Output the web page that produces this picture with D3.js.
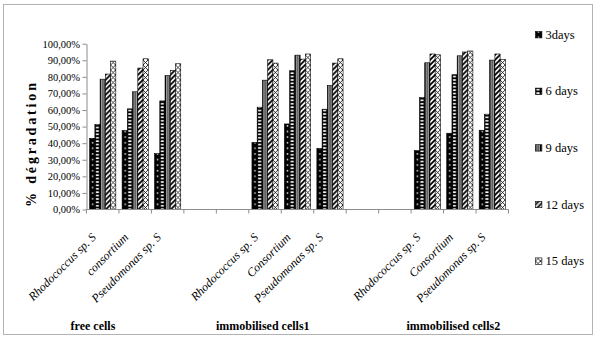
<!DOCTYPE html>
<html>
<head>
<meta charset="utf-8">
<script src="https://cdn.jsdelivr.net/npm/d3@7"></script>
<style>
  body { margin: 0; background: #fff; }
  svg text { font-family: "Liberation Serif", "Times New Roman", "DejaVu Serif", serif; }
</style>
</head>
<body>
<svg id="chart" width="598" height="341"></svg>
<script>
// data
const groups = ["free cells", "immobilised cells1", "immobilised cells2"];
const strains = [
   ["Rhodococcus sp. S", "consortium", "Pseudomonas sp. S"],
   ["Rhodococcus sp. S", "Consortium", "Pseudomonas sp. S"],
   ["Rhodococcus sp. S", "Consortium", "Pseudomonas sp. S"]
];
const seriesNames = ["3days", "6 days", "9 days", "12 days", "15 days"];
const day3  = [42.9, 47.6, 33.7, 40.5, 51.6, 36.9, 35.5, 46.0, 47.8];
const day6  = [51.4, 60.7, 65.5, 61.7, 83.7, 60.5, 67.5, 81.3, 57.5];
const day9  = [78.6, 71.0, 80.8, 78.0, 93.1, 74.8, 88.5, 92.7, 90.1];
const day12 = [81.7, 85.3, 83.9, 90.3, 90.7, 88.3, 93.8, 95.0, 93.8];
const day15 = [89.5, 90.9, 87.9, 88.3, 93.8, 90.9, 93.3, 95.6, 90.5];
const yTicks = [0, 10, 20, 30, 40, 50, 60, 70, 80, 90, 100];

const series = [day3, day6, day9, day12, day15];

// each group takes 3 slots, then 2 empty slots
const slotsPerGroup = 5;
const nSlots = groups.length * slotsPerGroup - 2;

let svg = d3.select("#chart");

// outer frame
svg.append("rect")
   .attr("x", 3.5).attr("y", 4.5)
   .attr("width", 589).attr("height", 330)
   .attr("fill", "none")
   .attr("stroke", "#b3b3b3");

let plot = {left: 86.5, right: 508.5, top: 43.7, bottom: 209.5};

let x0 = d3.scaleBand()
   .domain(d3.range(nSlots))
   .range([plot.left, plot.right]);
let x1 = d3.scaleBand()
   .domain(d3.range(series.length))
   .range([0, x0.bandwidth()])
   .paddingOuter(0.6);
let y = d3.scaleLinear()
   .domain([0, 100])
   .range([plot.bottom, plot.top]);

// patterns
let defs = svg.append("defs");
function pattern(id, w, h) {
   return defs.append("pattern")
      .attr("id", id)
      .attr("patternUnits", "userSpaceOnUse")
      .attr("width", w).attr("height", h);
}
let bw = x1.bandwidth();
// 3 days: black with small white dots
let p0 = pattern("pat0", bw, 5.6);
p0.append("rect").attr("width", bw).attr("height", 5.6).attr("fill", "#000");
p0.append("rect").attr("x", bw * 0.45).attr("y", 2).attr("width", 1.4).attr("height", 1.4).attr("fill", "#fff");
// 6 days: black ladder with white blocks
let p1 = pattern("pat1", bw, 3.4);
p1.append("rect").attr("width", bw).attr("height", 3.4).attr("fill", "#000");
p1.append("rect").attr("x", 1).attr("y", 1).attr("width", bw - 2.2).attr("height", 1.6).attr("fill", "#fff");
// 9 days: vertical stripes
let p2 = pattern("pat2", bw, 4);
p2.append("rect").attr("width", bw).attr("height", 4).attr("fill", "#fff");
p2.append("rect").attr("x", 0).attr("width", 1.2).attr("height", 4).attr("fill", "#000");
p2.append("rect").attr("x", 2.0).attr("width", 1.3).attr("height", 4).attr("fill", "#333");
p2.append("rect").attr("x", bw - 1.2).attr("width", 1.2).attr("height", 4).attr("fill", "#000");
// 12 days: thick diagonal stripes
let p3 = pattern("pat3", 5, 5);
p3.append("rect").attr("width", 5).attr("height", 5).attr("fill", "#fff");
p3.append("path").attr("d", "M-1,6 L6,-1 M-1,1 L1,-1 M4,6 L6,4")
   .attr("stroke", "#000").attr("stroke-width", 1.8);
// 15 days: diagonal cross hatch
let p4 = pattern("pat4", 5, 5);
p4.append("rect").attr("width", 5).attr("height", 5).attr("fill", "#fff");
p4.append("path").attr("d", "M0,0 L5,5 M5,0 L0,5")
   .attr("stroke", "#000").attr("stroke-width", 0.8);

// bars
let cats = [];
groups.forEach(function(g, gi) {
   strains[gi].forEach(function(s, si) {
      cats.push({group: gi, name: s, slot: gi * slotsPerGroup + si});
   });
});

let bars = [];
cats.forEach(function(c, ci) {
   series.forEach(function(vals, k) {
      bars.push({slot: c.slot, k: k, v: vals[ci]});
   });
});

svg.append("g").selectAll("g")
   .data(bars)
   .join("g")
      .attr("transform", d => "translate(" + (x0(d.slot) + x1(d.k)) + ",0)")
   .append("rect")
      .attr("x", 0)
      .attr("y", d => y(d.v))
      .attr("width", bw)
      .attr("height", d => y(0) - y(d.v))
      .attr("fill", d => "url(#pat" + d.k + ")")
      .attr("stroke", "#000")
      .attr("stroke-width", 0.6);

// left axis
let leftAxis = d3.axisLeft(y)
   .tickValues(yTicks)
   .tickSize(4)
   .tickSizeOuter(0)
   .tickFormat(v => v.toFixed(2).replace(".", ",") + "%");
let ga = svg.append("g")
   .attr("transform", "translate(" + plot.left + ",0)")
   .call(leftAxis)
   .attr("font-family", null);
ga.select(".domain").attr("stroke", "#8c8c8c");
ga.selectAll(".tick line").attr("stroke", "#8c8c8c");
ga.selectAll(".tick text")
   .attr("x", -6.5)
   .attr("font-size", 10.5)
   .attr("fill", "#000");

// bottom axis: ticks at slot boundaries
let gb = svg.append("g");
gb.append("line")
   .attr("x1", plot.left).attr("x2", plot.right)
   .attr("y1", plot.bottom).attr("y2", plot.bottom)
   .attr("stroke", "#8c8c8c");
gb.selectAll("line.tk")
   .data(d3.range(nSlots + 1))
   .join("line")
      .attr("class", "tk")
      .attr("x1", i => i < nSlots ? x0(i) : plot.right)
      .attr("x2", i => i < nSlots ? x0(i) : plot.right)
      .attr("y1", plot.bottom).attr("y2", plot.bottom + 4)
      .attr("stroke", "#8c8c8c");

// category labels
svg.append("g").selectAll("text")
   .data(cats)
   .join("text")
      .attr("transform", d => "translate(" + (x0(d.slot) + x0.bandwidth() / 2 - 6) + ",238) rotate(-45)")
      .attr("text-anchor", "end")
      .attr("font-style", "italic")
      .attr("font-size", 12)
      .text(d => d.name);

// group labels
let groupLabelSlot = [0.2, 5.43, 11.3];
svg.append("g").selectAll("text")
   .data(groups)
   .join("text")
      .attr("x", (d, i) => plot.left + groupLabelSlot[i] * x0.step())
      .attr("y", 330)
      .attr("text-anchor", "middle")
      .attr("font-weight", "bold")
      .attr("font-size", 12)
      .text(d => d);

// y axis title
svg.append("text")
   .attr("transform", "translate(36,145) rotate(-90)")
   .attr("text-anchor", "middle")
   .attr("font-weight", "bold")
   .attr("font-size", 14)
   .attr("textLength", 124)
   .attr("lengthAdjust", "spacing")
   .text("% dégradation");

// legend
let legend = svg.append("g").selectAll("g")
   .data(seriesNames)
   .join("g")
      .attr("transform", (d, i) => "translate(535.5," + (34.7 + i * 56.6) + ")");
legend.append("rect")
   .attr("x", 0).attr("y", -3.2)
   .attr("width", 6.4).attr("height", 6.4)
   .attr("fill", (d, i) => "url(#pat" + i + ")")
   .attr("stroke", "#000")
   .attr("stroke-width", 0.6);
legend.append("text")
   .attr("x", 10)
   .attr("y", 4)
   .attr("font-size", 12.5)
   .text(d => d);
</script>
</body>
</html>
